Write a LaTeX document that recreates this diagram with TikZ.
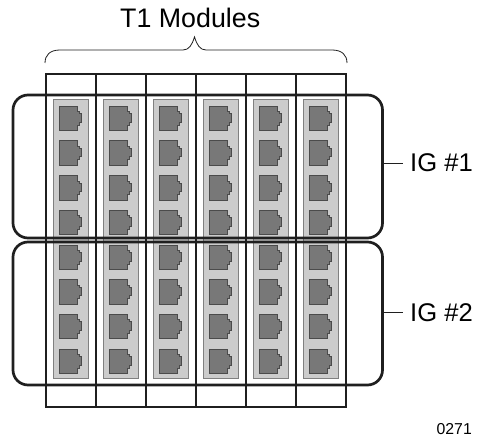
\documentclass[tikz,border=0pt]{standalone}
\usepackage{fontspec}
\setmainfont{Liberation Sans}
\definecolor{stripfill}{gray}{0.80}
\definecolor{stripedge}{gray}{0.50}
\definecolor{jackfill}{gray}{0.47}
\definecolor{ink}{gray}{0.12}
\tikzset{
  framebar/.style={draw=ink,line width=1.7pt},
  igbox/.style={draw=ink,line width=2.7pt,rounded corners=15pt},
  stripbox/.style={draw=stripedge,fill=stripfill,line width=1pt},
  jackshape/.style={draw=ink!80,fill=jackfill,line width=1pt},
  lab/.style={inner sep=0pt,anchor=base west,font=\fontsize{25.6}{27}\selectfont},
  leader/.style={draw=ink,line width=1pt}
}
\begin{document}
\begin{tikzpicture}[x=1pt,y=-1pt]
\useasboundingbox (0,0) rectangle (477,438);
\foreach \i in {0,...,5}{
  \pgfmathsetmacro{\sx}{53+50*\i}
  \draw[stripbox] (\sx,99.5) rectangle (\sx+35,378.5);
  \foreach \j in {0,...,7}{
    \pgfmathsetmacro{\jy}{106.3+34.7*\j}
    \draw[jackshape,shift={(\sx,\jy)}] (6.5,0) -- (24.5,0) -- (24.5,5.5) -- (26.5,5.5) -- (26.5,7.5) -- (28.5,7.5) -- (28.5,16) -- (26.5,16) -- (26.5,19) -- (24.5,19) -- (24.5,24.5) -- (6.5,24.5) -- cycle;
  }
}
\draw[framebar] (46,74) rectangle (346,407);
\foreach \x in {96,146,196,246,296}{ \draw[framebar] (\x,74) -- (\x,407); }
\draw[igbox] (13,95) rectangle (382.5,238);
\draw[igbox] (13,242) rectangle (382.5,385);
\draw[draw=ink,line width=0.8pt] (45,63) .. controls (45,55) and (50,50) .. (60,50) -- (183,50) .. controls (189,50) and (192,45) .. (194.5,37) .. controls (197,45) and (200,50) .. (206,50) -- (332,50) .. controls (342,50) and (347,55) .. (347,63);
\node[lab,font=\fontsize{26.8}{28}\selectfont] (title) at (120,27.5) {T1 Modules};
\node[lab] (ig1) at (410,172) {IG \#1};
\node[lab] (ig2) at (410,322) {IG \#2};
\node[inner sep=0pt,anchor=base east,font=\fontsize{15.8}{17}\selectfont] (code) at (472,435) {0271};
\coordinate (a1) at (383,163.5);
\coordinate (a2) at (383,313);
\draw[leader] (a1) -- ([xshift=-7pt]ig1.west |- a1);
\draw[leader] (a2) -- ([xshift=-7pt]ig2.west |- a2);
\end{tikzpicture}
\end{document}
